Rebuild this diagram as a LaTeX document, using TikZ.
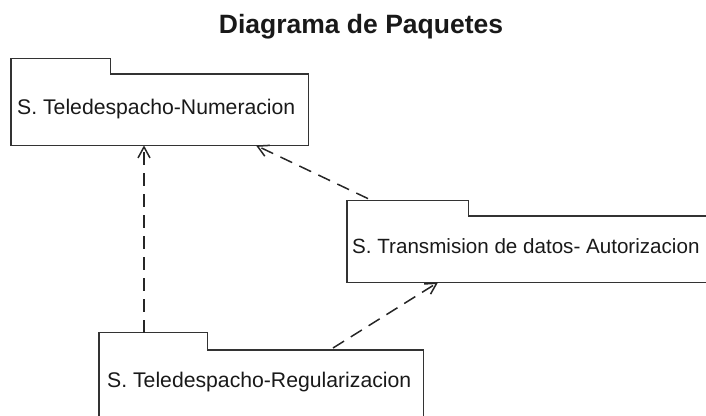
\documentclass[tikz,border=0pt]{standalone}
\usepackage{fontspec}
\setmainfont{Liberation Sans}
\usetikzlibrary{arrows.meta,calc}

\tikzset{
  corpo/.style={inner sep=0pt, anchor=north west},
  linguetta/.style={inner sep=0pt, anchor=south west},
  contorno/.style={draw=black!80, line width=1.7pt, line join=miter},
  etiqueta/.style={anchor=base west, inner sep=0pt, text=black!90, font=\fontsize{21.2}{23}\selectfont},
  depend/.style={draw=black!85, line width=1.5pt, dash pattern=on 13pt off 8pt,
    -{Straight Barb[length=11pt,width=12pt,line width=1.5pt]}}
}

\begin{document}
\begin{tikzpicture}[x=1pt,y=-1pt]
\useasboundingbox (0,0) rectangle (706,415);
\clip (0,0) rectangle (706,415);

% titolo
\node (titolo) at (361,33) [anchor=base, font=\bfseries\fontsize{26.5}{28}\selectfont, inner sep=0pt, text=black!90] {Diagrama de Paquetes};

% paquete 1 - numeracion
\node (num) at (11,74) [corpo, minimum width=297pt, minimum height=71pt] {};
\node (numtab) at (num.north west) [linguetta, minimum width=99pt, minimum height=15pt] {};
\draw[contorno] (num.south west) -- (numtab.north west) -- (numtab.north east) -- (numtab.south east)
  -- (num.north east) -- (num.south east) -- cycle;
\node (numtxt) at (17,114) [etiqueta] {S. Teledespacho-Numeracion};

% paquete 2 - autorizacion
\node (tra) at (347,216) [corpo, minimum width=362pt, minimum height=66pt] {};
\node (tratab) at (tra.north west) [linguetta, minimum width=121pt, minimum height=15pt] {};
\draw[contorno] (tra.south west) -- (tratab.north west) -- (tratab.north east) -- (tratab.south east)
  -- (tra.north east) -- (tra.south east) -- cycle;
\node (tratxt) at (352,253) [etiqueta, font=\fontsize{20.6}{22}\selectfont] {S. Transmision de datos- Autorizacion};

% paquete 3 - regularizacion
\node (reg) at (99,350) [corpo, minimum width=324pt, minimum height=75pt] {};
\node (regtab) at (reg.north west) [linguetta, minimum width=108pt, minimum height=17pt] {};
\draw[contorno] (reg.south west) -- (regtab.north west) -- (regtab.north east) -- (regtab.south east)
  -- (reg.north east) -- (reg.south east) -- cycle;
\node (regtxt) at (107,387) [etiqueta] {S. Teledespacho-Regularizacion};

% dipendenze
\coordinate (d1a) at ($(regtab.north west)+(45,0)$);
\coordinate (d1b) at (num.south -| d1a);
\coordinate (d2a) at ($(tratab.north west)+(21,-2)$);
\coordinate (d2b) at ($(num.south west)+(245,0)$);
\coordinate (d3a) at ($(reg.north west)+(234,-2)$);
\coordinate (d3b) at ($(tra.south west)+(91,0)$);
\draw[depend] (d1a) -- (d1b);
\draw[depend] (d2a) -- (d2b);
\draw[depend] (d3a) -- (d3b);
\end{tikzpicture}
\end{document}
